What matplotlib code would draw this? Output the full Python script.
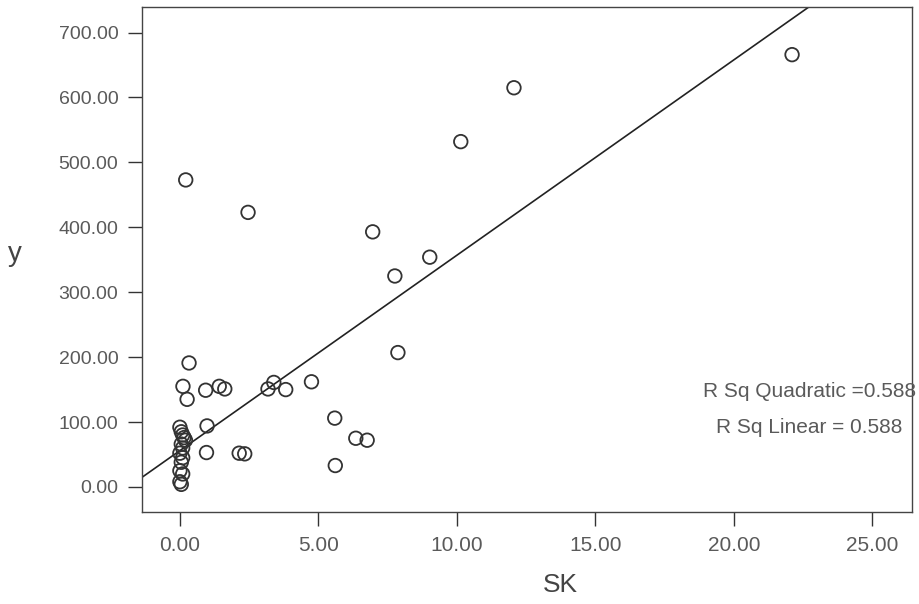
import numpy as np
import matplotlib.pyplot as plt

plt.rcParams['font.family'] = ['Liberation Sans', 'DejaVu Sans']

# data (SK vs y)
sk = [22.1, 12.06, 10.14, 0.21, 2.46, 6.96, 9.02, 7.76, 7.87,
      0.33, 0.11, 0.26, 0.93, 1.42, 1.62, 3.18, 3.39, 3.82, 4.75,
      5.59, 6.35, 6.76, 5.61, 0.98, 0.96, 2.14, 2.34,
      0.0, 0.05, 0.1, 0.15, 0.2, 0.05, 0.1, 0.0, 0.1, 0.05, 0.0, 0.1, 0.0, 0.05]
y = [666, 615, 532, 473, 423, 393, 354, 325, 207,
     191, 155, 135, 149, 155, 151, 151, 161, 150, 162,
     106, 75, 72, 33, 94, 53, 52, 51,
     92, 85, 80, 76, 72, 66, 60, 52, 45, 38, 25, 20, 8, 4]

# fitted line as drawn in the chart
fit_intercept = 56.0
fit_slope = 30.1
r2_quad = 0.588
r2_lin = 0.588

xticks = [0, 5, 10, 15, 20, 25]
yticks = [0, 100, 200, 300, 400, 500, 600, 700]

fig = plt.figure(figsize=(9.2, 6.04), dpi=100)
ax = fig.add_axes([0.1543, 0.152, 0.837, 0.8365])

ax.scatter(sk, y, s=95, facecolors='none', edgecolors='#333333', linewidths=1.3, zorder=3)

xl = np.array([-2, 28])
ax.plot(xl, fit_intercept + fit_slope * xl, color='#222222', lw=1.2, zorder=2)

ax.set_xlim(-1.37, 26.43)
ax.set_ylim(-38.9, 739.5)
ax.set_xticks(xticks)
ax.set_xticklabels(['%.2f' % v for v in xticks], fontsize=15, color='#5a5a5a')
ax.set_yticks(yticks)
ax.set_yticklabels(['%.2f' % v for v in yticks], fontsize=14, color='#5a5a5a')
ax.tick_params(axis='both', direction='out', length=10, width=1, color='#333333', pad=7)

for s in ax.spines.values():
    s.set_color('#444444')
    s.set_linewidth(1)

ax.text(1.006, 0.238, 'R Sq Quadratic =%.3f' % r2_quad, transform=ax.transAxes,
        ha='right', va='center', fontsize=15, color='#5a5a5a')
ax.text(0.988, 0.167, 'R Sq Linear = %.3f' % r2_lin, transform=ax.transAxes,
        ha='right', va='center', fontsize=15, color='#5a5a5a')

fig.text(0.609, 0.031, 'SK', ha='center', va='center', fontsize=19, color='#444444')
fig.text(0.016, 0.58, 'y', ha='center', va='center', fontsize=20, color='#444444')

fig.savefig('out.png', dpi=100)
